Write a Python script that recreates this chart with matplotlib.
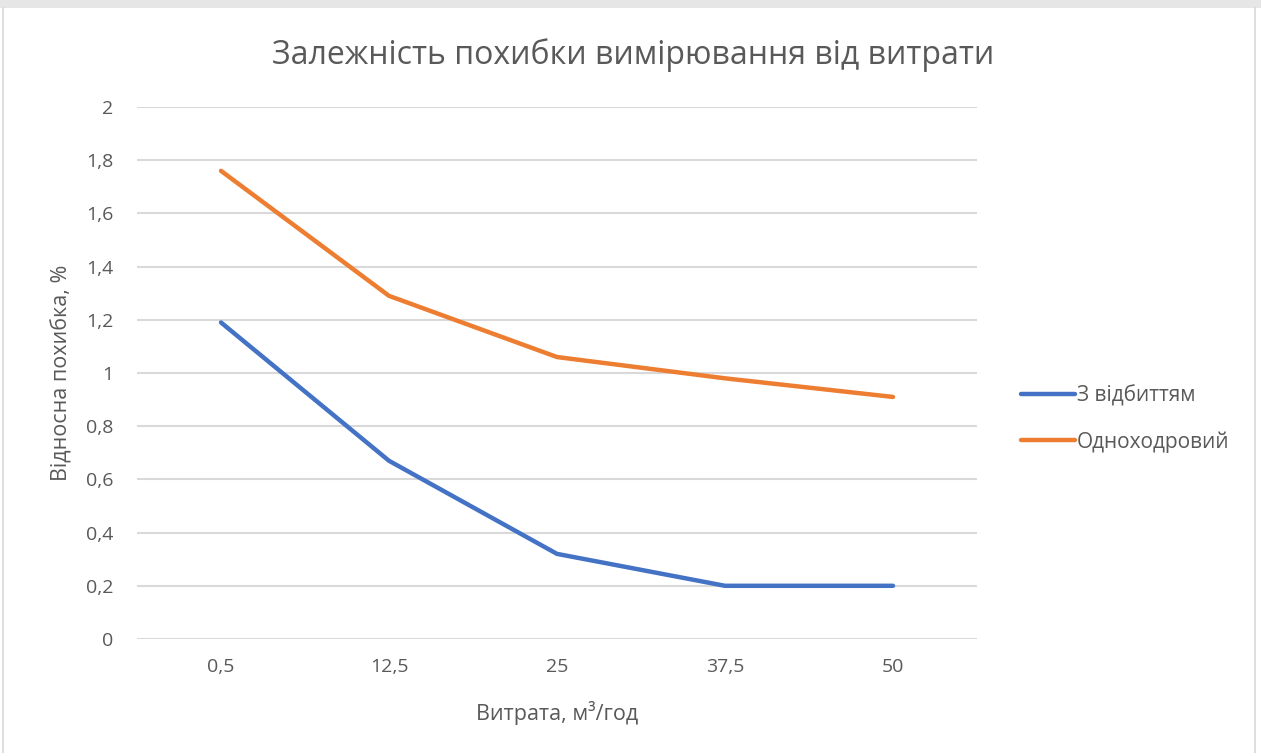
import matplotlib.pyplot as plt
from matplotlib.patches import Rectangle
from matplotlib.lines import Line2D

plt.rcParams['font.family'] = ['Open Sans', 'DejaVu Sans']

categories = ['0,5', '12,5', '25', '37,5', '50']
reflected = [1.19, 0.67, 0.32, 0.20, 0.20]
single_pass = [1.76, 1.29, 1.06, 0.98, 0.91]
yticks = [0, 0.2, 0.4, 0.6, 0.8, 1, 1.2, 1.4, 1.6, 1.8, 2]
ytick_labels = ['0', '0,2', '0,4', '0,6', '0,8', '1', '1,2', '1,4', '1,6', '1,8', '2']

txt = '#595959'
W, H = 1261, 753
fig = plt.figure(figsize=(W/100, H/100), dpi=100, facecolor='white')

# frame around the chart area
fig.patches.append(Rectangle((0, 1 - 8/H), 1, 8/H, transform=fig.transFigure,
                             facecolor='#e6e6e6', edgecolor='none'))
fig.lines.append(Line2D([3/W, 3/W], [0, 1 - 8/H], transform=fig.transFigure, color='#d9d9d9', lw=1.2))
fig.lines.append(Line2D([1255/W, 1255/W], [0, 1 - 8/H], transform=fig.transFigure, color='#d9d9d9', lw=1.2))

ax = fig.add_axes([137/W, 1 - 639/H, 840/W, 532/H])
x = range(len(categories))
ax.plot(x, reflected, color='#4472C4', lw=3.2, solid_capstyle='round', label='З відбиттям')
ax.plot(x, single_pass, color='#ED7D31', lw=3.2, solid_capstyle='round', label='Одноходровий')

ax.set_xlim(-0.5, len(categories) - 0.5)
ax.set_ylim(0, 2)
ax.set_xticks(list(x))
ax.set_xticklabels(categories)
ax.set_yticks(yticks)
ax.set_yticklabels(ytick_labels)
ax.tick_params(length=0, labelsize=14, colors=txt)
ax.tick_params(axis='x', pad=14)
ax.tick_params(axis='y', pad=17)
ax.grid(axis='y', color='#d9d9d9', lw=1.5)
ax.set_axisbelow(True)
for s in ax.spines.values():
    s.set_visible(False)

ax.set_xlabel('Витрата, м³/год', fontsize=15.5, color=txt, labelpad=18)
ax.set_ylabel('Відносна похибка, %', fontsize=15.5, color=txt, labelpad=10)
fig.text(633/W, 1 - 55/H, 'Залежність похибки вимірювання від витрати',
         ha='center', va='center', fontsize=23, color=txt)

leg = ax.legend(loc='center left', bbox_to_anchor=(1.03, 0.414), frameon=False,
                fontsize=15, labelcolor=txt, handlelength=2.6, handletextpad=0.1,
                labelspacing=1.2)

fig.savefig('out.png', dpi=100)
